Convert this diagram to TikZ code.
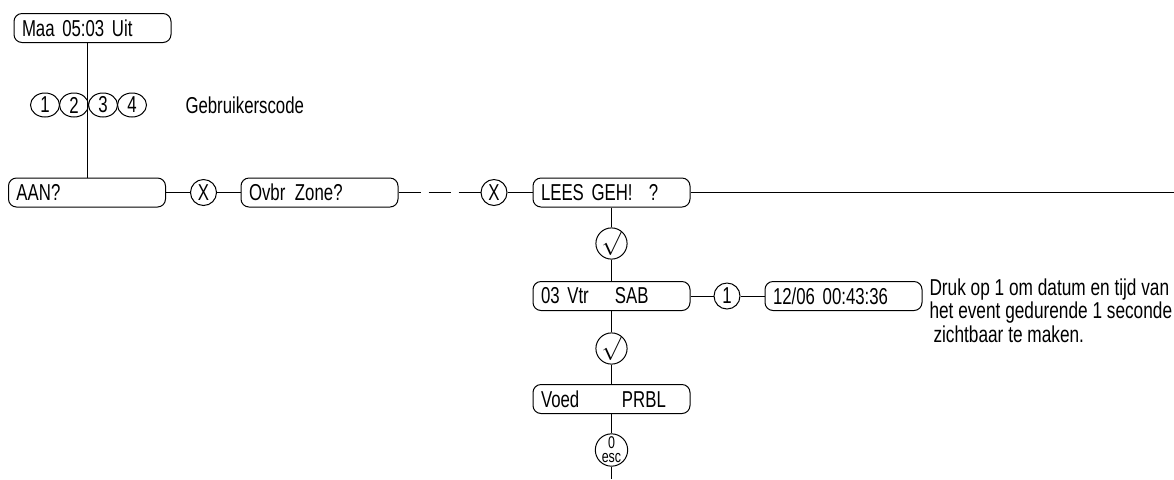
\documentclass[tikz,border=0pt]{standalone}
\usepackage{fontspec}
\setmainfont{Liberation Sans}[FakeStretch=0.73]
\newfontfamily\uitlegfont{Liberation Sans}[FakeStretch=0.75]
\usetikzlibrary{shapes.geometric}
\usetikzlibrary{positioning}

\begin{document}
\begin{tikzpicture}[x=0.5pt,y=-0.5pt,line width=0.5pt,
every node/.style={font=\fontsize{11.5}{11}\selectfont},
scherm/.style={draw,rounded corners=4pt,minimum width=78.5pt,minimum height=14.5pt,
	text width=70.5pt,align=left,inner xsep=4pt,inner ysep=0pt},
toets/.style={draw,circle,minimum size=13pt,inner sep=0pt},
cijfer/.style={draw,ellipse,minimum width=14.5pt,minimum height=12pt,inner sep=0pt}]
\useasboundingbox (0,0) rectangle (1174,479);

%start and code
\node[scherm] (maa) at (92.5,28) {Maa 05:03 Uit};
\foreach \c in {1,...,4}
	\node[cijfer] (code\c) at (16+29*\c,105) {\c};
\node[anchor=west,inner sep=0pt] (gebr) at (185,105) {Gebruikerscode};

%main row
\node[scherm] (aan) at (87,192.5) {AAN?};
\node[toets] (xa) at (203.5,192.5) {X};
\node[scherm] (ovbr) at (319.5,192.5) {\makebox[23pt][l]{Ovbr}Zone?};
\node[toets] (xb) at (494,192.5) {X};
\node[scherm] (lees) at (611.5,192.5) {\makebox[54pt][l]{LEES GEH!}?};
\coordinate (rechts) at (1174,192.5);

%event list
\node[toets] (ok1) at (611.5,243.5) {$\surd$};
\node[scherm] (vtr) at (611.5,296) {\makebox[37pt][l]{03 Vtr}SAB};
\node[toets] (een) at (727,296) {1};
\node[scherm] (datum) at (843.5,296) {12/06 00:43:36};
\node[anchor=north west,align=left,inner sep=0pt,font=\uitlegfont\fontsize{11.5}{10.5}\selectfont] (uitleg) at (929,278)
	{Druk op 1 om datum en tijd van\\het event gedurende 1 seconde\\\hspace{2pt}zichtbaar te maken.};
\node[toets] (ok2) at (611.5,348.5) {$\surd$};
\node[scherm] (voed) at (611.5,399) {\makebox[40.5pt][l]{Voed}PRBL};
\node[toets,font=\fontsize{8.5}{7}\selectfont,align=center] (esc) at (611.5,450) {0\\esc};
\coordinate (onder) at (611.5,479);

%connectors
\draw (aan.north) -- (aan.north |- maa.south);
\draw (aan) -- (xa) -- (ovbr);
\draw[dash pattern=on 11pt off 4pt] (ovbr) -- (xb);
\draw (xb) -- (lees) -- (rechts);
\draw (lees) -- (ok1) -- (vtr) -- (ok2) -- (voed) -- (esc) -- (onder);
\draw (vtr) -- (een) -- (datum);
\end{tikzpicture}
\end{document}
